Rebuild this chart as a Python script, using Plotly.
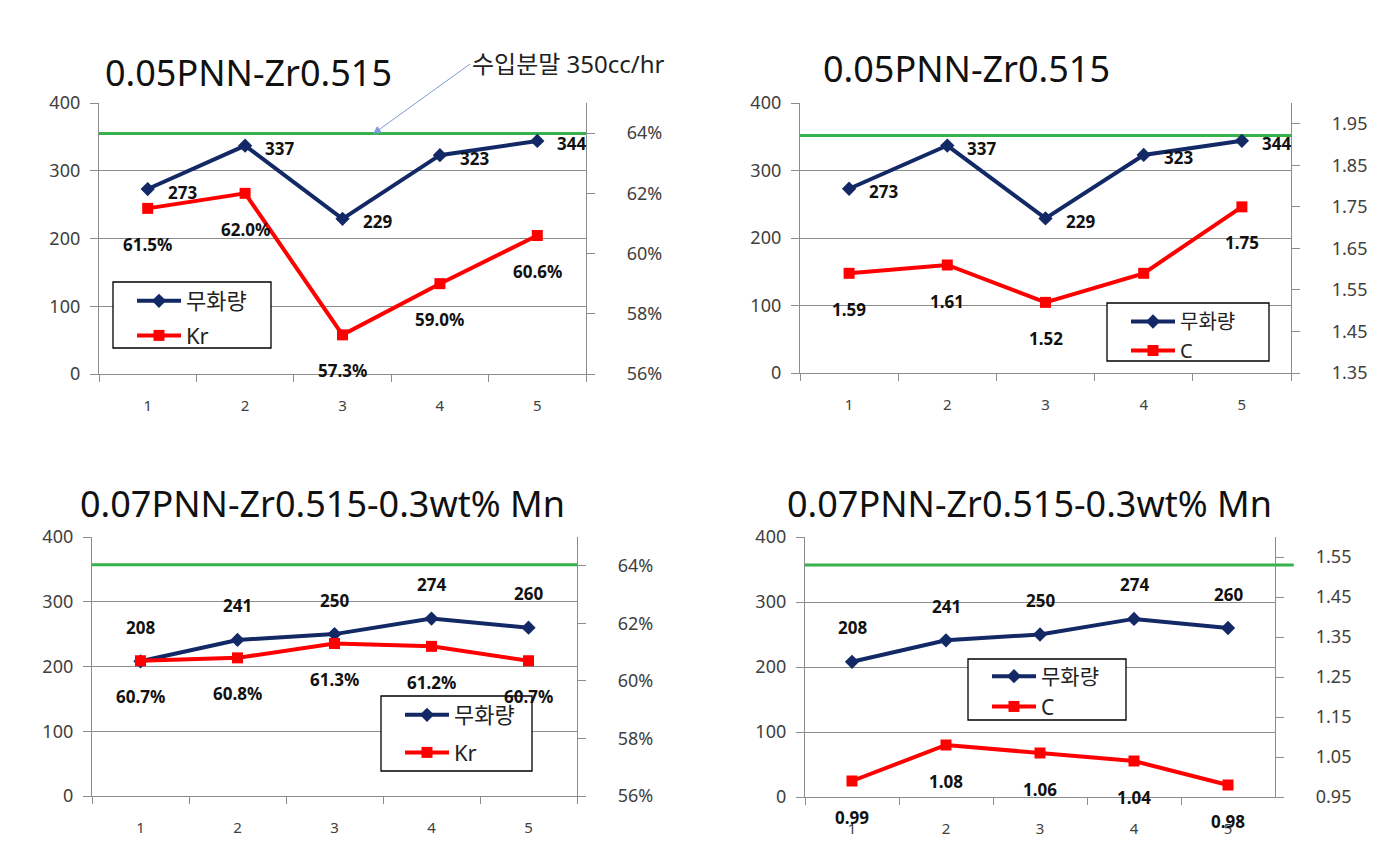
import plotly.graph_objects as go

W, H = 1398, 868
OFF = 8  # page body margin offset

# ---------------- data ----------------
categories = ["1", "2", "3", "4", "5"]

titles = ["0.05PNN-Zr0.515", "0.05PNN-Zr0.515",
          "0.07PNN-Zr0.515-0.3wt% Mn", "0.07PNN-Zr0.515-0.3wt% Mn"]

amount_top = [273, 337, 229, 323, 344]        # 무화량 (top panels)
amount_bottom = [208, 241, 250, 274, 260]     # 무화량 (bottom panels)

kr_top = [0.615, 0.620, 0.573, 0.590, 0.606]
c_top = [1.59, 1.61, 1.52, 1.59, 1.75]
kr_bottom = [0.607, 0.608, 0.613, 0.612, 0.607]
c_bottom = [0.99, 1.08, 1.06, 1.04, 0.98]

c_top_labels = ["1.59", "1.61", "1.52", "", "1.75"]   # 4th label hidden behind legend

green_level = [355, 352, 357, 357]   # 수입분말 reference line (left axis units)
ref_text = "수입분말 350cc/hr"

left_ticks = [0, 100, 200, 300, 400]
kr_ticks = [0.56, 0.58, 0.60, 0.62, 0.64]
c_top_ticks = [1.35, 1.45, 1.55, 1.65, 1.75, 1.85, 1.95]
c_bottom_ticks = [0.95, 1.05, 1.15, 1.25, 1.35, 1.45, 1.55]

# ---------------- styling / geometry ----------------
BLUE = "#122966"
RED = "#FF0000"
GREEN = "#36B24C"
GRID = "#8C8C8C"
TICKC = "#404040"
FONT = "Noto Sans, Noto Sans CJK KR, sans-serif"

# panel pixel boxes: (x0, x1, ytop, ybot)
panels = [(99, 586, 103, 374), (800, 1291, 103, 373),
          (92, 577, 537, 796), (805, 1275, 537, 797)]
title_pos = [(103, 72), (821, 68), (78, 503), (785, 503)]
# legend frames (x0, ytop, x1, ybot) in pixels
legend_box = [(113, 282, 271, 348), (1107, 303, 1269, 361),
              (381, 696, 532, 771), (968, 659, 1126, 720)]
legend_item_top = [280, 302, 694, 656]
legend_gap = [3, 0, 6, 0]
legend_font = [22, 20, 22, 21]
right_ranges = [[0.56, 0.65], [1.35, 2.0], [0.56, 0.65], [0.95, 1.60]]
right_ticks = [kr_ticks, c_top_ticks, kr_ticks, c_bottom_ticks]

amounts = [amount_top, amount_top, amount_bottom, amount_bottom]
seconds = [kr_top, c_top, kr_bottom, c_bottom]
second_names = ["Kr", "C", "Kr", "C"]
second_labels = [[f"{v*100:.1f}%" for v in kr_top], c_top_labels,
                 [f"{v*100:.1f}%" for v in kr_bottom], [f"{v:.2f}" for v in c_bottom]]


def px(x):
    return (x - OFF) / W


def py(y):
    return 1 - (y - OFF) / H


fig = go.Figure()
layout = dict(
    width=W, height=H, margin=dict(l=0, r=0, t=0, b=0, autoexpand=False),
    paper_bgcolor="white", plot_bgcolor="white",
    font=dict(family=FONT, color="#111"),
    annotations=[], shapes=[],
)

for i in range(4):
    x0, x1, yt, yb = panels[i]
    xa = "x" if i == 0 else f"x{i+1}"
    yl = "y" if i == 0 else f"y{2*i+1}"
    yr = f"y{2*i+2}"
    leg = "legend" if i == 0 else f"legend{i+1}"

    xkey = "xaxis" if i == 0 else f"xaxis{i+1}"
    ylkey = "yaxis" if i == 0 else f"yaxis{2*i+1}"
    yrkey = f"yaxis{2*i+2}"

    layout[xkey] = dict(
        domain=[px(x0), px(x1)], anchor=yl, type="category",
        categoryorder="array", categoryarray=categories, range=[-0.5, 4.5],
        tickson="boundaries", ticks="outside", ticklen=7, tickcolor=GRID,
        showline=True, linecolor=GRID, linewidth=1.3, showgrid=False,
        tickfont=dict(size=15, color=TICKC, family=FONT), ticklabelstandoff=18,
        zeroline=False, automargin=False,
    )
    layout[ylkey] = dict(
        domain=[py(yb), py(yt)], anchor=xa, range=[0, 400],
        tickvals=left_ticks, ticks="outside", ticklen=8, tickcolor=GRID,
        showline=True, linecolor=GRID, linewidth=1.3,
        showgrid=True, gridcolor=GRID, gridwidth=1.3, zeroline=False,
        tickfont=dict(size=18, color=TICKC, family=FONT), ticklabelstandoff=6,
        automargin=False,
    )
    ticks_r = right_ticks[i]
    if i in (0, 2):
        ttext = [f"{v*100:.0f}%" for v in ticks_r]
    else:
        ttext = [f"{v:.2f}" for v in ticks_r]
    layout[yrkey] = dict(
        overlaying=yl, anchor=xa, side="right", range=right_ranges[i],
        tickvals=ticks_r, ticktext=ttext, ticks="outside", ticklen=8,
        tickcolor=GRID, showline=True, linecolor=GRID, linewidth=1.3,
        showgrid=False, zeroline=False,
        tickfont=dict(size=18, color=TICKC, family=FONT), ticklabelstandoff=28,
        automargin=False,
    )

    fig.add_trace(go.Scatter(
        x=categories, y=amounts[i], name="무화량", mode="lines+markers",
        line=dict(color=BLUE, width=4), marker=dict(symbol="diamond", size=11, color=BLUE),
        xaxis=xa, yaxis=yl, legend=leg, legendgroup=f"a{i}",
    ))
    fig.add_trace(go.Scatter(
        x=categories, y=seconds[i], name=second_names[i], mode="lines+markers",
        line=dict(color=RED, width=4), marker=dict(symbol="square", size=11, color=RED),
        xaxis=xa, yaxis=yr, legend=leg, legendgroup=f"b{i}",
    ))

    # legend frame (white box with black border, above the data)
    bx0, by0, bx1, by1 = legend_box[i]
    layout["shapes"].append(dict(
        type="rect", xref="paper", yref="paper",
        x0=px(bx0), x1=px(bx1), y0=py(by1), y1=py(by0),
        fillcolor="white", line=dict(color="black", width=1.3), layer="above",
    ))
    layout[leg] = dict(
        x=px(bx0 + 19), y=py(legend_item_top[i]), xanchor="left", yanchor="top",
        bgcolor="rgba(0,0,0,0)", borderwidth=0,
        font=dict(size=legend_font[i], family=FONT, color="#222"),
        tracegroupgap=legend_gap[i], itemwidth=44,
    )

    # green reference line
    layout["shapes"].append(dict(
        type="line", xref=f"{xa} domain", yref=yl, x0=0, x1=1 if i != 3 else 1.04,
        y0=green_level[i], y1=green_level[i], line=dict(color=GREEN, width=3), layer="below",
    ))

    # title
    tx, ty = title_pos[i]
    layout["annotations"].append(dict(
        xref="paper", yref="paper", x=px(tx), y=py(ty), xanchor="left", yanchor="middle",
        text=titles[i], showarrow=False, font=dict(size=36, family=FONT, color="#111"),
    ))

    # data labels (category axis -> position by category index)
    top = i < 2
    for k, v in enumerate(amounts[i]):
        if top:
            layout["annotations"].append(dict(
                x=k, y=v, xref=xa, yref=yl, text=str(v), showarrow=False,
                xanchor="left", yanchor="middle", xshift=18, yshift=-3,
                font=dict(size=17, family=FONT, color="#111", weight="bold"),
            ))
        else:
            layout["annotations"].append(dict(
                x=k, y=v, xref=xa, yref=yl, text=str(v), showarrow=False,
                xanchor="center", yanchor="middle", yshift=34,
                font=dict(size=17, family=FONT, color="#111", weight="bold"),
            ))
    for k, (v, t) in enumerate(zip(seconds[i], second_labels[i])):
        if not t:
            continue
        layout["annotations"].append(dict(
            x=k, y=v, xref=xa, yref=yr, text=t, showarrow=False,
            xanchor="center", yanchor="middle", yshift=-36,
            font=dict(size=17, family=FONT, color="#111", weight="bold"),
        ))

# reference-line callout (top-left panel)
layout["annotations"].append(dict(
    xref="paper", yref="paper", x=px(373), y=py(134), text=ref_text, showarrow=True,
    ax=97, ay=-70, axref="pixel", ayref="pixel", xanchor="left", yanchor="middle",
    arrowhead=2, arrowsize=1.6, arrowwidth=1, arrowcolor="#7F9BD3",
    font=dict(size=24, family=FONT, color="#222"),
))

fig.update_layout(**layout)
fig.write_html("out.html")
